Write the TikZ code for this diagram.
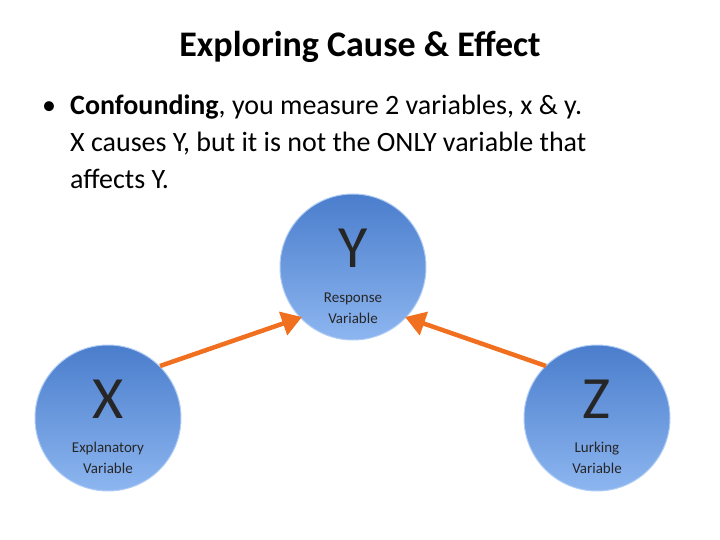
\documentclass[tikz,border=0pt]{standalone}
\usepackage{fontspec}
\setmainfont{Carlito}
\usetikzlibrary{arrows.meta}
\definecolor{ctop}{HTML}{4A7DCC}
\definecolor{cbot}{HTML}{8DB6F0}
\definecolor{orng}{HTML}{F07020}
\tikzset{
  bub/.style={circle,minimum size=146pt,inner sep=0pt,draw=cbot!70!white,line width=1pt,top color=ctop,bottom color=cbot},
  big/.style={font=\fontsize{60}{60}\selectfont,text=black!85},
  small/.style={font=\fontsize{15}{21}\selectfont,align=center,text=black!85},
  arr/.style={draw=orng,line width=4.5pt,-{Triangle[length=20pt,width=24pt]}}
}
\begin{document}
\begin{tikzpicture}[x=1pt,y=-1pt]
\useasboundingbox (0,0) rectangle (720,540);
\node[font=\bfseries\fontsize{36}{40}\selectfont] (title) at (360,47) {Exploring Cause \& Effect};
\node[anchor=north west,font=\fontsize{28}{37}\selectfont,align=left,inner sep=0pt] (body) at (42,95)
{\makebox[28pt][l]{•}\textbf{Confounding}, you measure 2 variables, x \& y.\\
\hspace*{28pt}X causes Y, but it is not the ONLY variable that\\
\hspace*{28pt}affects Y.};
\node[bub] (y) at (353,267) {};
\node[bub] (x) at (108,418) {};
\node[bub] (z) at (597,418) {};
\node[big] (yl) at (353,248) {Y};
\node[small] (ys) at (353,308) {Response\\Variable};
\node[big] (xl) at (108,399) {X};
\node[small] (xs) at (108,458) {Explanatory\\Variable};
\node[big] (zl) at (597,399) {Z};
\node[small] (zs) at (597,458) {Lurking\\Variable};
\coordinate (xa) at (160,366);
\coordinate (ya) at (302,317);
\coordinate (za) at (546,366);
\coordinate (yb) at (405,317);
\draw[arr] (xa) -- (ya);
\draw[arr] (za) -- (yb);
\end{tikzpicture}
\end{document}
